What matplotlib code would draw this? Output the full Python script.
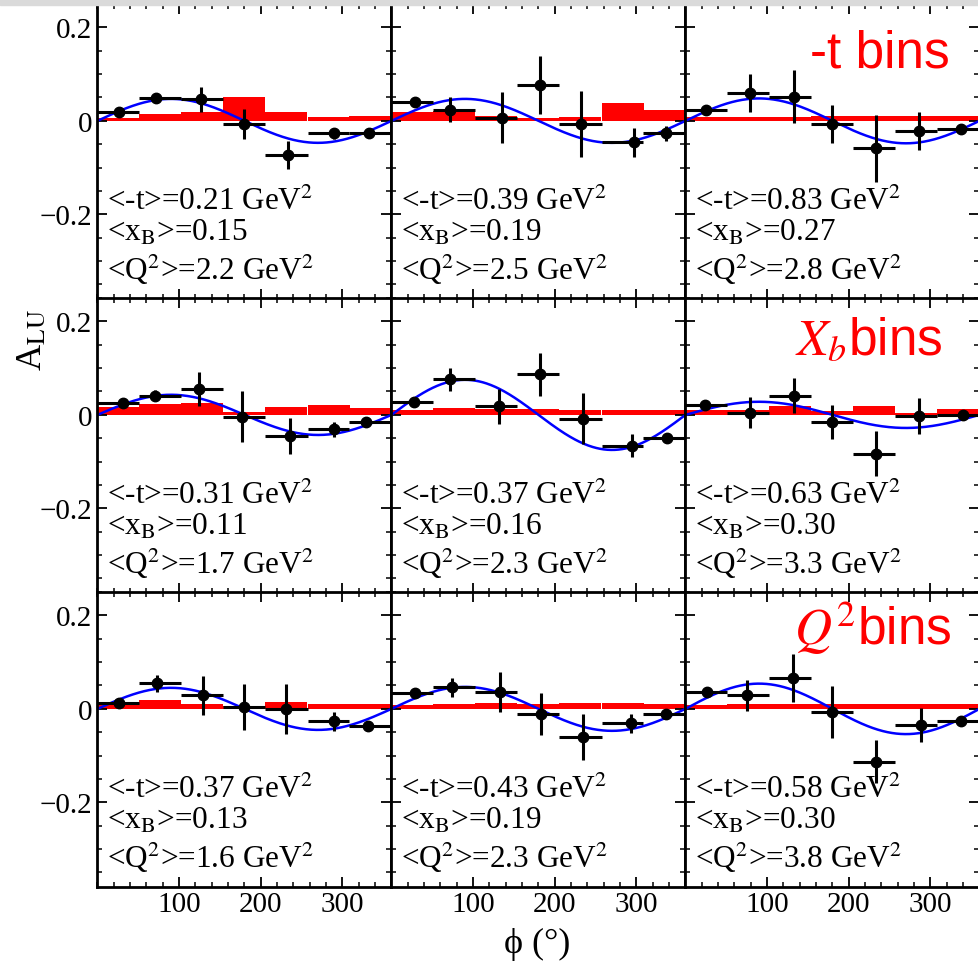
import numpy as np
import matplotlib.pyplot as plt
from matplotlib.patches import Rectangle
from matplotlib.ticker import FixedLocator, MultipleLocator, FuncFormatter

plt.rcParams['font.family'] = ['Liberation Serif', 'DejaVu Serif']
plt.rcParams['mathtext.fontset'] = 'stix'

# 7 phi bins, panels ordered row by row (-t bins, x_B bins, Q^2 bins)
n_bins = 7
phi_edges = np.linspace(0, 360, n_bins + 1)

phi_mean = [
    [25.8, 71.6, 126.8, 180.0, 233.0, 290.0, 333.0],
    [28.6, 71.6, 135.0, 182.0, 232.0, 296.5, 336.0],
    [24.5, 78.5, 133.0, 179.5, 233.0, 286.0, 337.0],
    [30.7, 70.8, 124.7, 177.0, 236.0, 290.0, 329.0],
    [27.4, 71.6, 131.7, 182.0, 234.0, 294.5, 337.0],
    [23.3, 78.5, 133.0, 179.5, 233.0, 286.0, 339.5],
    [26.6, 72.4, 129.7, 179.0, 231.0, 290.0, 331.0],
    [28.6, 73.6, 133.0, 183.0, 234.0, 293.0, 336.0],
    [26.6, 75.7, 131.7, 179.5, 233.0, 288.0, 337.0],
]
alu = [
    [0.018, 0.048, 0.046, -0.007, -0.073, -0.027, -0.027],
    [0.041, 0.024, 0.007, 0.076, -0.007, -0.046, -0.027],
    [0.023, 0.059, 0.052, -0.007, -0.059, -0.021, -0.018],
    [0.026, 0.041, 0.055, -0.004, -0.045, -0.031, -0.016],
    [0.028, 0.076, 0.018, 0.087, -0.008, -0.066, -0.049],
    [0.021, 0.005, 0.041, -0.015, -0.083, -0.002, 0.000],
    [0.012, 0.055, 0.029, 0.004, 0.000, -0.027, -0.036],
    [0.034, 0.046, 0.036, -0.011, -0.061, -0.031, -0.011],
    [0.036, 0.029, 0.066, -0.007, -0.113, -0.034, -0.027],
]
alu_err = [
    [0.008, 0.010, 0.027, 0.032, 0.030, 0.012, 0.008],
    [0.008, 0.027, 0.055, 0.062, 0.071, 0.031, 0.016],
    [0.010, 0.041, 0.057, 0.041, 0.071, 0.041, 0.010],
    [0.008, 0.012, 0.037, 0.054, 0.039, 0.016, 0.010],
    [0.010, 0.024, 0.037, 0.046, 0.054, 0.025, 0.008],
    [0.008, 0.034, 0.038, 0.037, 0.048, 0.038, 0.008],
    [0.008, 0.018, 0.042, 0.049, 0.054, 0.021, 0.008],
    [0.008, 0.020, 0.043, 0.045, 0.049, 0.020, 0.007],
    [0.010, 0.033, 0.052, 0.056, 0.046, 0.036, 0.010],
]
sys_err = [
    [0.007, 0.014, 0.018, 0.050, 0.018, 0.009, 0.011],
    [0.018, 0.021, 0.011, 0.007, 0.009, 0.039, 0.023],
    [0.008, 0.009, 0.009, 0.010, 0.010, 0.010, 0.010],
    [0.016, 0.023, 0.026, 0.006, 0.016, 0.021, 0.015],
    [0.011, 0.014, 0.013, 0.012, 0.011, 0.011, 0.011],
    [0.011, 0.011, 0.019, 0.009, 0.019, 0.005, 0.012],
    [0.011, 0.018, 0.011, 0.007, 0.014, 0.011, 0.011],
    [0.009, 0.010, 0.012, 0.010, 0.012, 0.013, 0.011],
    [0.009, 0.010, 0.011, 0.011, 0.011, 0.010, 0.010],
]
fit_amp = [0.047, 0.047, 0.048, 0.043, 0.075, 0.028, 0.045, 0.047, 0.054]

t_mean = [0.21, 0.39, 0.83, 0.31, 0.37, 0.63, 0.37, 0.43, 0.58]
xb_mean = [0.15, 0.19, 0.27, 0.11, 0.16, 0.30, 0.13, 0.19, 0.30]
q2_mean = [2.2, 2.5, 2.8, 1.7, 2.3, 3.3, 1.6, 2.3, 3.8]

bin_labels = ["-t bins", r"$X_b$bins", r"$Q^2$bins"]
bin_label_pos = [(0.90, 0.789), (0.876, 0.81), (0.906, 0.825)]

W, H = 979, 970
fig = plt.figure(figsize=(W / 100, H / 100), dpi=100)

col_left = [97.5, 391.5, 685.5]
row_top = [5, 299, 593]
pw, ph = 294, 294.5

def yfmt(v, pos):
    if abs(v) < 1e-9:
        return "0"
    return f"{v:.1f}".replace("-", "\u2212")

phi_grid = np.linspace(0, 360, 400)

for i in range(9):
    r, c = divmod(i, 3)
    ax = fig.add_axes([col_left[c] / W, (H - row_top[r] - ph) / H, pw / W, ph / H])

    ax.bar(phi_edges[:-1], sys_err[i], width=360 / n_bins, align='edge',
           color='red', linewidth=0, zorder=1)
    ax.plot(phi_grid, fit_amp[i] * np.sin(np.radians(phi_grid)),
            color='blue', lw=1.8, zorder=2)

    x = np.array(phi_mean[i])
    xerr = [x - phi_edges[:-1], phi_edges[1:] - x]
    ax.errorbar(x, alu[i], yerr=alu_err[i], xerr=xerr, fmt='o', color='black',
                ms=7.5, elinewidth=2.2, capsize=0, zorder=3)

    ax.set_xlim(0, 360)
    ax.set_ylim(-0.38, 0.25)
    ax.xaxis.set_major_locator(FixedLocator([100, 200, 300]))
    ax.xaxis.set_minor_locator(MultipleLocator(20))
    ax.yaxis.set_major_locator(FixedLocator([-0.2, 0, 0.2]))
    ax.yaxis.set_minor_locator(MultipleLocator(0.05))
    ax.yaxis.set_major_formatter(FuncFormatter(yfmt))
    ax.tick_params(which='both', direction='in', top=True, right=True,
                   labelsize=21)
    ax.tick_params(which='major', length=7, width=1.3)
    ax.tick_params(which='minor', length=3.5, width=1.1)
    ax.tick_params(axis='y', pad=4)
    ax.tick_params(axis='x', pad=3)
    if c != 0:
        ax.tick_params(labelleft=False)
    if r != 2:
        ax.tick_params(labelbottom=False)
    for s in ax.spines.values():
        s.set_linewidth(2)

    ax.text(0.032, 0.303, f"<-t>={t_mean[i]:.2f} GeV$^2$", transform=ax.transAxes,
            fontsize=22.5, va='baseline', ha='left')
    ax.text(0.032, 0.201, f"<x$_\\mathrm{{B}}$>={xb_mean[i]:.2f}", transform=ax.transAxes,
            fontsize=22.5, va='baseline', ha='left')
    ax.text(0.032, 0.065, f"<Q$^2$>={q2_mean[i]:.1f} GeV$^2$", transform=ax.transAxes,
            fontsize=22.5, va='baseline', ha='left')

    if c == 2:
        bx, by = bin_label_pos[r]
        ax.text(bx, by, bin_labels[r], transform=ax.transAxes, color='red',
                fontsize=37, family='Liberation Sans', ha='right', va='baseline')

fig.text(33 / W, 1 - 340 / H, r"A$_\mathrm{LU}$", rotation=90, fontsize=26,
         ha='center', va='center')
fig.text(537 / W, 1 - 944 / H, "\u03d5 (\u00b0)", fontsize=26,
         ha='center', va='center')

fig.add_artist(Rectangle((0, 1 - 6 / H), 1, 6 / H, transform=fig.transFigure,
                         color='#dadada', zorder=10))

fig.savefig('out.png', dpi=100)
